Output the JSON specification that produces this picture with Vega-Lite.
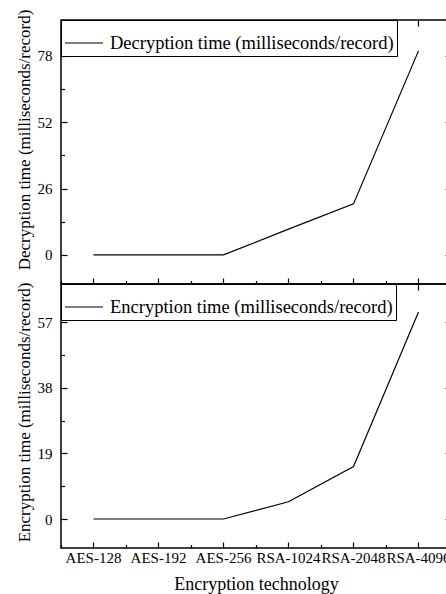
{
  "$schema": "https://vega.github.io/schema/vega-lite/v6.json",
  "padding": {"left": 14, "top": 8, "right": 0, "bottom": 0},
  "spacing": 0,
  "bounds": "flush",
  "resolve": {"scale": {"color": "independent"}},
  "config": {
    "font": "Liberation Serif",
    "view": {"stroke": "black", "strokeWidth": 1.5},
    "axis": {"grid": false, "domain": false, "tickColor": "black", "tickWidth": 1.2, "labelColor": "black", "titleColor": "black", "labelFont": "Liberation Serif", "titleFont": "Liberation Serif", "labelFontSize": 15, "titleFontSize": 17, "titleFontWeight": "normal", "labelOverlap": false, "labelBound": false, "labelFlush": false},
    "legend": {"orient": "top-left", "offset": 0, "padding": 3, "strokeColor": "black", "strokeWidth": 1, "fillColor": "white", "symbolType": "stroke", "symbolSize": 1444, "symbolStrokeWidth": 1.2, "symbolStrokeColor": "black", "labelFont": "Liberation Serif", "labelFontSize": 18.5, "labelColor": "black", "labelOffset": 6, "labelLimit": 0, "title": null},
    "line": {"color": "black", "strokeWidth": 1.2}
  },
  "datasets": {
    "dec": [
      {"tech": "AES-128", "time": 0, "series": "Decryption time (milliseconds/record)"},
      {"tech": "AES-192", "time": 0, "series": "Decryption time (milliseconds/record)"},
      {"tech": "AES-256", "time": 0, "series": "Decryption time (milliseconds/record)"},
      {"tech": "RSA-1024", "time": 10.1, "series": "Decryption time (milliseconds/record)"},
      {"tech": "RSA-2048", "time": 20, "series": "Decryption time (milliseconds/record)"},
      {"tech": "RSA-4096", "time": 80, "series": "Decryption time (milliseconds/record)"}
    ],
    "enc": [
      {"tech": "AES-128", "time": 0, "series": "Encryption time (milliseconds/record)"},
      {"tech": "AES-192", "time": 0, "series": "Encryption time (milliseconds/record)"},
      {"tech": "AES-256", "time": 0, "series": "Encryption time (milliseconds/record)"},
      {"tech": "RSA-1024", "time": 5, "series": "Encryption time (milliseconds/record)"},
      {"tech": "RSA-2048", "time": 15.2, "series": "Encryption time (milliseconds/record)"},
      {"tech": "RSA-4096", "time": 60, "series": "Encryption time (milliseconds/record)"}
    ]
  },
  "vconcat": [
    {
      "width": 390,
      "height": 264,
      "data": {"name": "dec"},
      "resolve": {"axis": {"x": "independent", "y": "independent"}},
      "layer": [
        {
          "mark": "line",
          "encoding": {
            "x": {"field": "tech", "type": "ordinal", "sort": null, "bandPosition": 0.5, "scale": {"type": "band", "paddingInner": 0, "paddingOuter": 0}, "axis": {"orient": "bottom", "labels": false, "title": null, "tickSize": -6, "bandPosition": 0.5}},
            "y": {"field": "time", "type": "quantitative", "scale": {"domain": [-11.4, 92.1], "nice": false, "zero": false}, "axis": {"orient": "left", "values": [0, 26, 52, 78], "tickSize": -6, "labelPadding": 15, "title": "Decryption time (milliseconds/record)", "titleY": 119.5, "titlePadding": 4}},
            "color": {"field": "series", "type": "nominal", "scale": {"range": ["black"]}}
          }
        },
        {
          "mark": {"type": "line", "opacity": 0},
          "encoding": {
            "x": {"field": "tech", "type": "ordinal", "sort": null, "bandPosition": 0.5, "axis": {"orient": "bottom", "labels": false, "title": null, "tickSize": -3.5, "tickBand": "extent"}},
            "y": {"field": "time", "type": "quantitative", "axis": {"orient": "left", "values": [13, 39, 65], "labels": false, "title": null, "tickSize": -3.5}}
          }
        },
        {
          "mark": {"type": "line", "opacity": 0},
          "encoding": {
            "x": {"field": "tech", "type": "ordinal", "sort": null, "bandPosition": 0.5, "axis": {"orient": "top", "labels": false, "title": null, "tickSize": -6, "bandPosition": 0.5}},
            "y": {"field": "time", "type": "quantitative", "axis": {"orient": "right", "values": [0, 26, 52, 78], "labels": false, "title": null, "tickSize": -6}}
          }
        }
      ]
    },
    {
      "width": 390,
      "height": 264,
      "data": {"name": "enc"},
      "resolve": {"axis": {"x": "independent", "y": "independent"}},
      "layer": [
        {
          "mark": "line",
          "encoding": {
            "x": {"field": "tech", "type": "ordinal", "sort": null, "bandPosition": 0.5, "scale": {"type": "band", "paddingInner": 0, "paddingOuter": 0}, "axis": {"orient": "bottom", "title": "Encryption technology", "titleFontSize": 18, "titlePadding": 10, "tickSize": -6, "labelPadding": 8, "bandPosition": 0.5, "labelAngle": 0}},
            "y": {"field": "time", "type": "quantitative", "scale": {"domain": [-8.4, 68.1], "nice": false, "zero": false}, "axis": {"orient": "left", "values": [0, 19, 38, 57], "tickSize": -6, "labelPadding": 15, "title": "Encryption time (milliseconds/record)", "titleY": 128, "titlePadding": 4}},
            "color": {"field": "series", "type": "nominal", "scale": {"range": ["black"]}}
          }
        },
        {
          "mark": {"type": "line", "opacity": 0},
          "encoding": {
            "x": {"field": "tech", "type": "ordinal", "sort": null, "bandPosition": 0.5, "axis": {"orient": "bottom", "labels": false, "title": null, "tickSize": -3.5, "tickBand": "extent"}},
            "y": {"field": "time", "type": "quantitative", "axis": {"orient": "left", "values": [9.5, 28.5, 47.5], "labels": false, "title": null, "tickSize": -3.5}}
          }
        },
        {
          "mark": {"type": "line", "opacity": 0},
          "encoding": {
            "x": {"field": "tech", "type": "ordinal", "sort": null, "bandPosition": 0.5, "axis": {"orient": "top", "labels": false, "title": null, "tickSize": -6, "bandPosition": 0.5}},
            "y": {"field": "time", "type": "quantitative", "axis": {"orient": "right", "values": [0, 19, 38, 57], "labels": false, "title": null, "tickSize": -6}}
          }
        }
      ]
    }
  ]
}
